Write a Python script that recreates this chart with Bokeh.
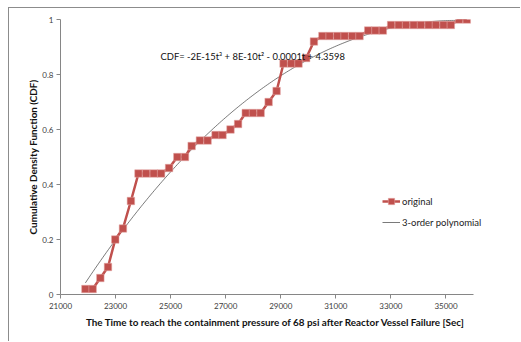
import numpy as np
from bokeh.plotting import figure
from bokeh.models import (Range1d, FixedTicker, NumeralTickFormatter, Legend, LegendItem, Label)
from bokeh.embed import file_html
from bokeh.resources import INLINE

# Data
time_sec = [21904, 22168, 22447, 22725, 22989, 23268, 23557, 23832, 24110, 24389,
            24653, 24943, 25243, 25521, 25763, 26063, 26342, 26631, 26884, 27174,
            27449, 27727, 27991, 28269, 28559, 28848, 29101, 29380, 29644, 29922,
            30204, 30512, 30776, 31054, 31318, 31597, 31860, 32175, 32439, 32707,
            33007, 33286, 33550, 33829, 34092, 34371, 34635, 34913, 35177, 35477,
            35756]
cdf = [0.02, 0.02, 0.06, 0.10, 0.20, 0.24, 0.34, 0.44, 0.44, 0.44,
       0.44, 0.46, 0.50, 0.50, 0.54, 0.56, 0.56, 0.58, 0.58, 0.60,
       0.62, 0.66, 0.66, 0.66, 0.70, 0.74, 0.84, 0.84, 0.84, 0.86,
       0.92, 0.94, 0.94, 0.94, 0.94, 0.94, 0.94, 0.96, 0.96, 0.96,
       0.98, 0.98, 0.98, 0.98, 0.98, 0.98, 0.98, 0.98, 0.98, 1.00,
       1.00]
x_ticks = [21000, 23000, 25000, 27000, 29000, 31000, 33000, 35000]
x_axis_bounds = (21000, 36000)
y_ticks = [0, 0.2, 0.4, 0.6, 0.8, 1]
equation = "CDF= -2E-15t\u00b3 + 8E-10t\u00b2 - 0.0001t + 4.3598"
x_title = "The Time to reach the containment pressure of 68 psi after Reactor Vessel Failure [Sec]"
y_title = "Cumulative Density Function (CDF)"

# 3rd order polynomial trendline (least squares fit, as in the source chart)
poly = np.polynomial.Polynomial.fit(time_sec, cdf, 3)
t_fit = np.linspace(min(time_sec), max(time_sec), 200)
cdf_fit = poly(t_fit)

RED = "#C0504D"
FONT = "Lato"

p = figure(width=512, height=334, output_backend="svg", toolbar_location=None,
           x_range=Range1d(21000, 36617), y_range=Range1d(0, 1),
           min_border_left=51, min_border_right=31, min_border_top=11, min_border_bottom=48)
p.styles = {"margin-left": "8px", "margin-top": "7px",
            "border-top": "1px solid #8c8c8c", "border-left": "1px solid #8c8c8c"}
p.outline_line_color = None
p.xgrid.grid_line_color = None
p.ygrid.grid_line_color = None
p.background_fill_color = "white"
p.border_fill_color = "white"

trend = p.line(t_fit, cdf_fit, line_color="#404040", line_width=0.7)
orig_line = p.line(time_sec, cdf, line_color=RED, line_width=2.5)
orig_pts = p.scatter(time_sec, cdf, marker="square", size=7.5, fill_color=RED,
                     line_color="#E4A9A7", line_width=0.5)

for ax in (p.xaxis[0], p.yaxis[0]):
    ax.axis_line_color = "#868686"
    ax.major_tick_line_color = "#868686"
    ax.major_tick_in = 0
    ax.major_tick_out = 4
    ax.minor_tick_line_color = None
    ax.major_label_text_font = FONT
    ax.major_label_text_font_size = "8px"
    ax.major_label_text_color = "#404040"
    ax.axis_label_text_font = FONT
    ax.axis_label_text_font_size = "9.9px"
    ax.axis_label_text_font_style = "bold"
    ax.axis_label_text_color = "#111111"

p.xaxis.ticker = FixedTicker(ticks=x_ticks)
p.xaxis.bounds = x_axis_bounds
p.xaxis.formatter = NumeralTickFormatter(format="0")
p.xaxis.major_label_standoff = 4
p.xaxis.axis_label = x_title
p.xaxis.axis_label_standoff = 4

p.yaxis.ticker = FixedTicker(ticks=y_ticks)
p.yaxis.formatter = NumeralTickFormatter(format="0.[0]")
p.yaxis.major_label_standoff = 3
p.yaxis.axis_label = y_title
p.yaxis.axis_label_standoff = 0

p.add_layout(Label(x=100, y=238, x_units="screen", y_units="screen", text=equation,
                   text_font=FONT, text_font_size="9.4px", text_baseline="middle",
                   text_color="#111111"))

legend = Legend(items=[LegendItem(label="original", renderers=[orig_line, orig_pts]),
                       LegendItem(label="3-order polynomial", renderers=[trend])],
                location=(322, 64), padding=0, margin=0, spacing=5,
                glyph_width=18, glyph_height=16, label_standoff=2,
                label_text_font=FONT, label_text_font_size="9.5px",
                label_text_color="#222222",
                border_line_color=None, background_fill_alpha=0)
p.add_layout(legend)

open("out.html", "w").write(file_html(p, INLINE))
